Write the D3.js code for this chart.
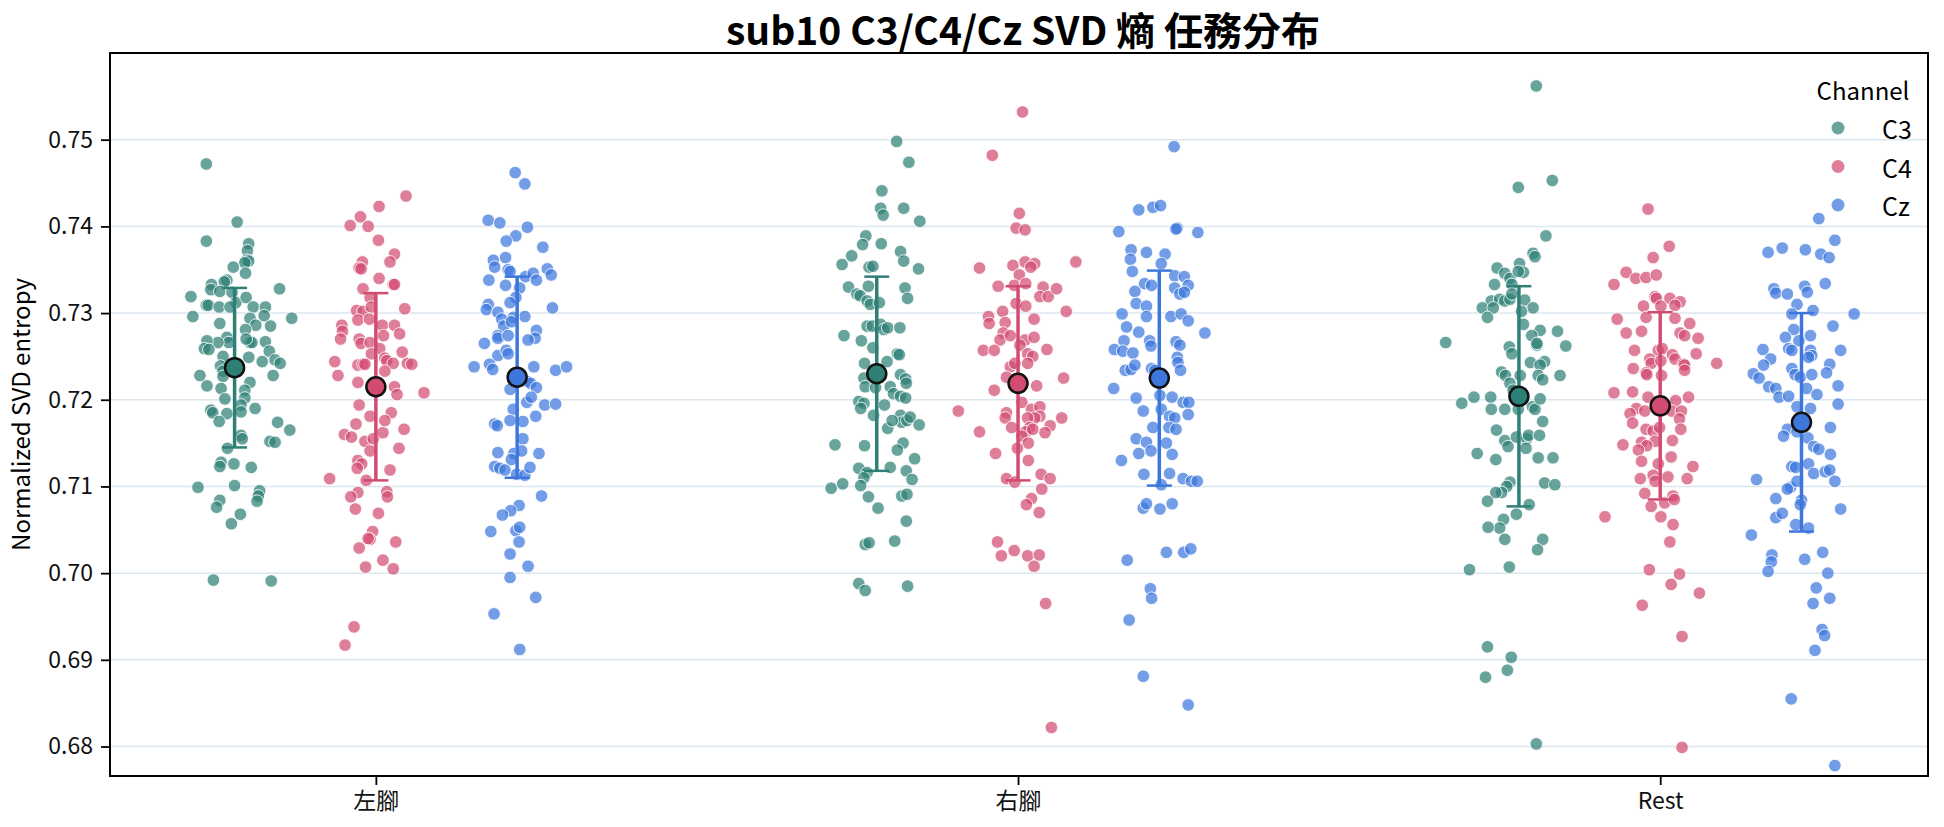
<!DOCTYPE html>
<html>
<head>
<meta charset="utf-8">
<script src="https://cdn.jsdelivr.net/npm/d3@7"></script>
<style>
  body { margin: 0; background: #fff; }
  svg text { font-family: "Noto Sans CJK TC", "Noto Sans", sans-serif; }
</style>
</head>
<body>
<div id="chart"></div>
<script>
// ---- data ----
const tasks    = ['左腳', '右腳', 'Rest'];
const channels = ['C3', 'C4', 'Cz'];
const yTicks   = [0.68, 0.69, 0.70, 0.71, 0.72, 0.73, 0.74, 0.75];

// each point: [entropy, jitter] ; jitter in hundredths of a category
const leftC3 = [[0.7472,-4.4],[0.7405,0.4],[0.7383,-4.4],[0.7380,2.2],[0.7372,2.0],[0.7361,1.9],[0.7360,2.2],[0.7358,1.6],[0.7353,-0.2],[0.7346,1.7],[0.7328,7.0],[0.7333,-3.6],[0.7338,-1.2],[0.7336,-1.6],[0.7327,-3.7],[0.7325,-2.3],[0.7319,-6.8],[0.7324,-0.4],[0.7312,0.2],[0.7318,1.8],[0.7309,-4.4],[0.7309,-4.1],[0.7307,-2.4],[0.7307,-0.7],[0.7307,2.9],[0.7307,4.8],[0.7297,4.6],[0.7285,5.6],[0.7296,-6.5],[0.7294,8.9],[0.7294,2.4],[0.7286,3.3],[0.7281,1.7],[0.7288,-2.3],[0.7272,-1.2],[0.7266,-0.9],[0.7266,-2.6],[0.7268,-4.3],[0.7259,-4.7],[0.7258,-4.0],[0.7266,2.4],[0.7266,2.7],[0.7270,1.8],[0.7267,4.8],[0.7250,-1.8],[0.7249,2.2],[0.7256,5.4],[0.7246,6.3],[0.7242,7.1],[0.7244,4.3],[0.7239,-2.2],[0.7233,-1.8],[0.7227,-1.8],[0.7228,-5.4],[0.7216,-4.3],[0.7228,6.0],[0.7220,2.4],[0.7211,1.6],[0.7213,-2.1],[0.7201,-1.5],[0.7202,1.6],[0.7194,1.0],[0.7190,3.2],[0.7188,-3.7],[0.7185,-3.4],[0.7184,-1.2],[0.7186,1.0],[0.7175,-2.4],[0.7174,6.7],[0.7165,8.6],[0.7159,1.0],[0.7155,1.2],[0.7152,5.5],[0.7151,6.3],[0.7144,-1.1],[0.7128,-2.1],[0.7123,-2.3],[0.7126,-0.1],[0.7122,2.6],[0.7099,-5.7],[0.7101,0.0],[0.7095,3.9],[0.7089,3.7],[0.7083,3.5],[0.7084,-2.3],[0.7076,-2.8],[0.7068,0.9],[0.7057,-0.5],[0.6992,-3.3],[0.6991,5.7]];
const leftC4 = [[0.7435,4.7],[0.7423,0.5],[0.7411,-2.4],[0.7401,-4.0],[0.7400,-1.2],[0.7384,0.4],[0.7368,2.9],[0.7359,2.2],[0.7359,-2.1],[0.7352,-2.6],[0.7351,-2.3],[0.7340,0.5],[0.7333,2.7],[0.7333,2.9],[0.7328,-2.0],[0.7318,-0.9],[0.7305,4.5],[0.7303,-3.0],[0.7302,-2.0],[0.7307,-0.7],[0.7286,-5.3],[0.7279,-5.2],[0.7270,-5.5],[0.7292,-2.8],[0.7293,-1.0],[0.7286,1.0],[0.7274,1.2],[0.7286,2.9],[0.7276,3.7],[0.7270,-2.6],[0.7265,-2.3],[0.7266,-0.9],[0.7259,0.6],[0.7255,4.1],[0.7244,-6.4],[0.7253,-0.7],[0.7248,1.4],[0.7245,1.7],[0.7242,2.7],[0.7240,-2.8],[0.7241,-2.0],[0.7241,-1.7],[0.7242,4.9],[0.7241,5.6],[0.7228,-5.9],[0.7233,1.4],[0.7220,-2.8],[0.7215,2.9],[0.7206,3.3],[0.7208,7.5],[0.7194,-2.6],[0.7181,-0.9],[0.7185,2.4],[0.7172,-3.1],[0.7160,-4.9],[0.7157,-3.8],[0.7152,-1.7],[0.7155,-0.4],[0.7162,1.1],[0.7176,1.4],[0.7166,4.4],[0.7141,-0.9],[0.7144,3.6],[0.7130,-2.8],[0.7126,-2.2],[0.7121,-2.9],[0.7119,2.2],[0.7109,-7.2],[0.7107,-1.5],[0.7093,-2.8],[0.7088,-3.9],[0.7094,1.7],[0.7088,1.8],[0.7074,-3.2],[0.7069,0.4],[0.7048,-0.5],[0.7039,-0.9],[0.7040,-1.2],[0.7029,-2.6],[0.7036,3.1],[0.7015,1.1],[0.7007,-1.6],[0.7005,2.7],[0.6938,-3.4],[0.6917,-4.8]];
const leftCz = [[0.7462,-0.3],[0.7449,1.2],[0.7407,-4.5],[0.7404,-2.7],[0.7399,1.6],[0.7389,-0.2],[0.7383,-1.7],[0.7376,4.0],[0.7361,-3.7],[0.7353,-3.5],[0.7364,-1.8],[0.7350,-1.4],[0.7348,-1.1],[0.7351,4.7],[0.7344,5.3],[0.7338,-4.4],[0.7332,-1.8],[0.7342,1.3],[0.7346,2.5],[0.7338,3.0],[0.7329,0.4],[0.7318,-0.2],[0.7312,-1.1],[0.7310,-4.5],[0.7304,-4.8],[0.7301,-3.0],[0.7306,5.5],[0.7296,1.2],[0.7295,-0.6],[0.7293,-2.4],[0.7285,-2.1],[0.7290,-0.9],[0.7280,3.0],[0.7271,2.8],[0.7269,1.7],[0.7265,-5.1],[0.7274,-3.0],[0.7271,-3.0],[0.7274,-1.4],[0.7251,-3.0],[0.7257,-1.7],[0.7253,-1.4],[0.7238,-6.7],[0.7241,-4.3],[0.7235,-3.8],[0.7238,2.6],[0.7234,6.0],[0.7238,7.7],[0.7212,-1.1],[0.7221,1.6],[0.7219,2.1],[0.7214,3.0],[0.7197,1.5],[0.7203,2.2],[0.7194,4.3],[0.7195,6.0],[0.7189,-0.6],[0.7176,-1.1],[0.7175,0.9],[0.7181,2.9],[0.7172,-3.5],[0.7170,-3.1],[0.7155,0.9],[0.7139,-3.0],[0.7138,-0.5],[0.7141,0.7],[0.7138,3.4],[0.7131,-0.9],[0.7123,-3.5],[0.7121,-2.7],[0.7119,-1.9],[0.7114,-0.1],[0.7113,1.2],[0.7122,2.0],[0.7089,3.8],[0.7078,0.3],[0.7072,-1.0],[0.7067,-2.3],[0.7048,-4.1],[0.7049,-0.2],[0.7053,0.4],[0.7036,0.3],[0.7022,-1.1],[0.7008,1.7],[0.6995,-1.1],[0.6972,2.9],[0.6953,-3.6],[0.6912,0.4]];
const rightC3 = [[0.7498,3.1],[0.7474,5.0],[0.7441,0.8],[0.7421,0.6],[0.7413,1.0],[0.7421,4.2],[0.7406,6.7],[0.7389,-1.7],[0.7379,-2.2],[0.7380,0.7],[0.7371,3.7],[0.7360,4.2],[0.7366,-3.9],[0.7356,-5.4],[0.7353,-1.2],[0.7354,-0.6],[0.7351,6.5],[0.7330,-4.4],[0.7322,-3.1],[0.7320,-2.6],[0.7331,-1.3],[0.7329,4.4],[0.7317,4.8],[0.7314,-1.5],[0.7310,-1.0],[0.7312,0.4],[0.7285,-1.5],[0.7285,-0.7],[0.7287,0.6],[0.7281,1.1],[0.7283,1.7],[0.7283,3.6],[0.7274,-5.1],[0.7268,-2.4],[0.7260,-0.6],[0.7253,3.2],[0.7252,3.5],[0.7242,-1.9],[0.7244,1.6],[0.7225,-2.0],[0.7215,-1.8],[0.7229,3.7],[0.7224,4.5],[0.7219,4.6],[0.7214,-0.2],[0.7215,2.1],[0.7207,2.6],[0.7204,3.7],[0.7202,4.5],[0.7198,-2.8],[0.7196,-2.0],[0.7190,-2.5],[0.7194,1.2],[0.7182,-0.5],[0.7182,3.7],[0.7174,3.9],[0.7176,4.7],[0.7180,5.2],[0.7171,6.6],[0.7167,1.7],[0.7176,2.4],[0.7148,-6.5],[0.7147,-1.9],[0.7150,4.1],[0.7142,3.2],[0.7132,5.9],[0.7121,-2.8],[0.7116,-1.5],[0.7110,-2.0],[0.7122,2.1],[0.7118,4.6],[0.7108,5.5],[0.7098,-7.1],[0.7103,-5.3],[0.7101,-2.5],[0.7089,3.9],[0.7091,4.7],[0.7088,-1.3],[0.7075,0.2],[0.7060,4.6],[0.7033,-1.8],[0.7035,-1.2],[0.7037,2.8],[0.6988,-2.8],[0.6980,-1.8],[0.6985,4.8]];
const rightC4 = [[0.7532,0.7],[0.7482,-4.0],[0.7415,0.2],[0.7398,-0.3],[0.7396,1.1],[0.7352,-6.0],[0.7355,-0.8],[0.7359,1.1],[0.7357,2.6],[0.7353,2.0],[0.7359,9.0],[0.7344,0.2],[0.7331,-3.1],[0.7332,-0.6],[0.7334,1.2],[0.7330,3.9],[0.7319,3.4],[0.7319,4.7],[0.7328,6.0],[0.7311,-0.3],[0.7308,1.2],[0.7302,-2.4],[0.7302,7.5],[0.7296,-4.6],[0.7288,-4.5],[0.7289,-2.0],[0.7293,2.5],[0.7277,-2.3],[0.7269,-2.8],[0.7274,-1.2],[0.7269,1.1],[0.7272,2.5],[0.7257,-5.4],[0.7257,-3.7],[0.7258,4.5],[0.7263,0.3],[0.7253,1.5],[0.7250,2.3],[0.7242,1.5],[0.7238,-1.2],[0.7242,-0.5],[0.7226,-1.8],[0.7225,7.1],[0.7216,2.9],[0.7211,-3.7],[0.7187,-9.3],[0.7197,0.6],[0.7185,-1.8],[0.7179,-2.0],[0.7168,-1.0],[0.7189,2.1],[0.7192,3.4],[0.7181,3.4],[0.7179,2.6],[0.7179,1.5],[0.7168,1.8],[0.7163,1.2],[0.7166,2.3],[0.7179,6.8],[0.7170,5.0],[0.7162,4.2],[0.7163,-6.0],[0.7158,0.6],[0.7150,1.6],[0.7144,-0.1],[0.7138,-3.5],[0.7130,1.6],[0.7109,-1.8],[0.7105,-0.5],[0.7114,3.6],[0.7109,5.0],[0.7097,3.7],[0.7086,2.1],[0.7079,1.3],[0.7070,3.3],[0.7036,-3.2],[0.7020,-2.6],[0.7026,-0.6],[0.7020,1.5],[0.7021,3.3],[0.7008,2.5],[0.6965,4.3],[0.6822,5.2]];
const rightCz = [[0.7492,2.3],[0.7419,-3.2],[0.7422,-1.0],[0.7424,0.2],[0.7394,-6.3],[0.7398,2.8],[0.7397,2.6],[0.7393,6.0],[0.7373,-4.4],[0.7362,-4.5],[0.7370,-2.0],[0.7368,0.9],[0.7357,0.3],[0.7348,-4.2],[0.7343,2.4],[0.7342,3.9],[0.7334,-2.3],[0.7332,-1.2],[0.7325,-3.8],[0.7329,2.4],[0.7322,3.2],[0.7332,4.5],[0.7324,3.9],[0.7311,-3.6],[0.7308,-2.0],[0.7296,-2.0],[0.7299,-5.8],[0.7284,-5.1],[0.7296,1.8],[0.7299,3.4],[0.7291,4.5],[0.7278,-3.2],[0.7277,7.1],[0.7268,-1.5],[0.7262,-1.3],[0.7268,-5.5],[0.7258,-7.0],[0.7256,-5.7],[0.7254,-4.1],[0.7267,2.6],[0.7263,3.2],[0.7249,2.8],[0.7243,2.9],[0.7234,3.3],[0.7234,-5.3],[0.7235,-4.4],[0.7240,-3.8],[0.7236,-1.2],[0.7234,-0.7],[0.7213,-7.1],[0.7202,-3.6],[0.7205,0.1],[0.7203,2.0],[0.7197,3.7],[0.7197,4.6],[0.7183,4.5],[0.7187,-2.5],[0.7189,0.3],[0.7181,1.6],[0.7179,2.4],[0.7168,-1.0],[0.7168,1.5],[0.7166,2.6],[0.7155,-3.6],[0.7151,-2.0],[0.7141,-1.3],[0.7150,1.1],[0.7138,-3.2],[0.7137,2.0],[0.7130,-5.9],[0.7114,-2.4],[0.7115,1.6],[0.7109,3.7],[0.7106,5.0],[0.7106,5.9],[0.7102,0.3],[0.7075,-2.5],[0.7080,-2.0],[0.7074,0.1],[0.7080,2.0],[0.7015,-5.0],[0.7024,1.1],[0.7024,3.8],[0.7028,4.9],[0.6982,-1.4],[0.6971,-1.2],[0.6946,-4.7],[0.6881,-2.5],[0.6848,4.5]];
const restC3 = [[0.7562,2.7],[0.7445,-0.1],[0.7453,5.2],[0.7389,4.2],[0.7369,2.2],[0.7365,2.5],[0.7352,-3.4],[0.7346,-2.2],[0.7340,-1.4],[0.7357,0.1],[0.7347,0.7],[0.7348,-0.1],[0.7333,-3.8],[0.7333,-1.1],[0.7314,-4.3],[0.7316,-3.0],[0.7314,-2.2],[0.7316,-1.4],[0.7322,-1.1],[0.7306,-5.7],[0.7306,-4.0],[0.7295,-4.9],[0.7315,0.9],[0.7306,2.2],[0.7302,0.4],[0.7287,0.7],[0.7266,-11.4],[0.7280,3.3],[0.7274,2.0],[0.7263,2.8],[0.7265,2.8],[0.7279,6.0],[0.7262,7.3],[0.7261,-1.5],[0.7253,-1.1],[0.7243,1.8],[0.7244,4.0],[0.7240,3.3],[0.7228,3.0],[0.7223,3.7],[0.7228,6.4],[0.7232,-2.7],[0.7228,-2.1],[0.7228,0.2],[0.7219,-1.4],[0.7211,-0.9],[0.7196,-8.9],[0.7203,-7.0],[0.7203,-4.4],[0.7189,-4.3],[0.7189,-2.2],[0.7189,-0.1],[0.7192,2.1],[0.7189,2.5],[0.7201,3.3],[0.7175,3.7],[0.7165,-3.5],[0.7153,-2.2],[0.7146,-1.7],[0.7157,-0.4],[0.7155,1.2],[0.7159,1.5],[0.7144,1.1],[0.7159,3.2],[0.7138,-6.5],[0.7131,-3.6],[0.7133,3.0],[0.7133,5.3],[0.7105,-1.4],[0.7100,-1.9],[0.7093,-2.7],[0.7093,-3.6],[0.7104,4.0],[0.7102,5.6],[0.7083,-4.9],[0.7079,1.6],[0.7068,-0.4],[0.7062,-2.4],[0.7052,-3.0],[0.7053,-4.8],[0.7039,-2.2],[0.7039,3.7],[0.7027,2.9],[0.7004,-7.7],[0.7007,-1.5],[0.6915,-4.9],[0.6903,-1.2],[0.6888,-1.8],[0.6880,-5.2],[0.6803,2.7]];
const restC4 = [[0.7420,-1.9],[0.7377,1.4],[0.7364,-1.1],[0.7347,-5.3],[0.7333,-7.2],[0.7340,-3.8],[0.7341,-2.2],[0.7344,-0.6],[0.7319,-0.8],[0.7317,-0.6],[0.7317,1.5],[0.7313,3.1],[0.7309,2.3],[0.7308,-2.6],[0.7308,0.1],[0.7295,-2.2],[0.7293,-6.7],[0.7294,2.3],[0.7288,4.6],[0.7277,-5.3],[0.7279,-2.9],[0.7277,3.1],[0.7274,3.8],[0.7271,5.9],[0.7257,-4.0],[0.7257,-0.3],[0.7259,0.3],[0.7253,5.6],[0.7252,1.9],[0.7247,2.3],[0.7247,-1.6],[0.7242,-1.4],[0.7245,0.1],[0.7241,3.6],[0.7240,3.8],[0.7234,3.8],[0.7242,8.8],[0.7236,-4.2],[0.7231,-2.2],[0.7229,-2.1],[0.7228,0.2],[0.7208,-7.2],[0.7209,-4.3],[0.7203,-1.9],[0.7199,2.4],[0.7203,4.4],[0.7190,-3.7],[0.7184,-4.7],[0.7187,-2.4],[0.7187,1.8],[0.7187,3.3],[0.7178,3.0],[0.7166,3.2],[0.7173,-4.3],[0.7166,-2.2],[0.7164,-1.1],[0.7168,-0.1],[0.7152,-0.8],[0.7151,-2.9],[0.7147,-2.1],[0.7142,-3.4],[0.7153,1.9],[0.7148,-5.8],[0.7134,1.7],[0.7129,-2.9],[0.7126,-0.3],[0.7123,5.1],[0.7113,-1.1],[0.7109,-3.1],[0.7111,1.2],[0.7109,4.2],[0.7106,-0.8],[0.7092,-2.4],[0.7077,-1.4],[0.7081,0.7],[0.7089,2.0],[0.7085,2.2],[0.7065,-8.6],[0.7065,0.1],[0.7056,2.0],[0.7036,1.5],[0.7004,-1.7],[0.6999,3.0],[0.6987,1.7],[0.6977,6.1],[0.6963,-2.8],[0.6927,3.4],[0.6799,3.4]];
const restCz = [[0.7409,2.7],[0.7384,5.2],[0.7370,-5.2],[0.7375,-3.0],[0.7373,0.6],[0.7368,3.0],[0.7364,4.3],[0.7334,3.7],[0.7328,-4.3],[0.7323,-4.0],[0.7322,-2.2],[0.7331,0.5],[0.7324,0.9],[0.7310,-0.7],[0.7299,-1.5],[0.7303,1.8],[0.7299,8.2],[0.7281,-1.2],[0.7285,4.9],[0.7272,-2.5],[0.7268,-0.4],[0.7274,1.4],[0.7258,-6.0],[0.7259,-2.0],[0.7257,-1.5],[0.7257,1.4],[0.7251,1.6],[0.7249,1.1],[0.7257,6.1],[0.7247,-4.8],[0.7240,-5.9],[0.7236,-1.5],[0.7229,-1.0],[0.7226,-0.2],[0.7229,1.6],[0.7241,4.4],[0.7231,3.9],[0.7230,-7.5],[0.7225,-6.6],[0.7215,-5.1],[0.7213,-4.0],[0.7203,-3.5],[0.7204,-2.0],[0.7213,0.8],[0.7206,2.4],[0.7216,5.7],[0.7190,1.4],[0.7195,5.7],[0.7192,-0.7],[0.7166,-2.2],[0.7158,-2.8],[0.7163,-0.7],[0.7168,4.5],[0.7156,1.0],[0.7146,1.9],[0.7143,2.7],[0.7137,4.5],[0.7123,-1.5],[0.7122,-0.9],[0.7126,1.1],[0.7115,1.9],[0.7117,3.7],[0.7119,4.4],[0.7106,5.2],[0.7108,-7.0],[0.7099,-1.7],[0.7097,-2.2],[0.7106,-0.7],[0.7084,0.0],[0.7079,-0.2],[0.7086,-4.0],[0.7074,6.1],[0.7064,-4.0],[0.7069,-3.0],[0.7056,-0.9],[0.7052,1.1],[0.7044,-7.8],[0.7021,-4.6],[0.7013,-4.7],[0.7002,-5.2],[0.7016,0.5],[0.7024,3.3],[0.7000,4.1],[0.6983,2.3],[0.6965,1.8],[0.6971,4.4],[0.6935,3.2],[0.6928,3.6],[0.6911,2.1],[0.6855,-1.6],[0.6778,5.2]];

// mean and SD per task (rows) and channel (cols)
const meanVals = [[0.7237, 0.7215, 0.7226], [0.7230, 0.7219, 0.7225], [0.7204, 0.7193, 0.7174]];
const sdVals   = [[0.0092, 0.0108, 0.0116], [0.0112, 0.0112, 0.0124], [0.0127, 0.0108, 0.0126]];

const strips = [[leftC3, leftC4, leftCz], [rightC3, rightC4, rightCz], [restC3, restC4, restCz]];

const color = d3.scaleOrdinal().domain(channels).range(['#2e7f76', '#d24c72', '#3d77dc']);

// ---- layout ----
const W = 1944, H = 827;
const margin = { top: 53, right: 16, bottom: 51, left: 110 };
const width  = W - margin.left - margin.right;
const height = H - margin.top - margin.bottom;

const svg = d3.select('#chart').append('svg')
    .attr('width', W).attr('height', H);
const g = svg.append('g')
    .attr('transform', `translate(${margin.left},${margin.top})`);

const x = d3.scaleLinear().domain([-0.414, 2.417]).range([0, width]);
const dodge = d3.scalePoint().domain(channels).range([-0.22, 0.22]);
const y = d3.scaleLinear().domain([0.6766, 0.7600]).range([height, 0]);

// gridlines
g.append('g').selectAll('line')
  .data(yTicks)
  .enter().append('line')
    .attr('x1', 0).attr('x2', width)
    .attr('y1', d => y(d)).attr('y2', d => y(d))
    .attr('stroke', '#dce6ef').attr('stroke-width', 1.5);

// points
strips.forEach((row, ti) => {
  row.forEach((pts, ci) => {
    const ch = channels[ci];
    g.append('g').selectAll('circle')
      .data(pts)
      .enter().append('circle')
        .attr('cx', d => x(ti + dodge(ch) + d[1] / 100))
        .attr('cy', d => y(d[0]))
        .attr('r', 6.3)
        .attr('fill', color(ch))
        .attr('fill-opacity', 0.72)
        .attr('stroke', '#fff')
        .attr('stroke-opacity', 0.85)
        .attr('stroke-width', 1);
  });
});

// mean ± SD
const summary = [];
tasks.forEach((t, ti) => channels.forEach((ch, ci) => {
  summary.push({ ti, ch, m: meanVals[ti][ci], s: sdVals[ti][ci] });
}));

const eb = g.append('g').selectAll('g')
  .data(summary)
  .enter().append('g');
eb.append('line')
  .attr('x1', d => x(d.ti + dodge(d.ch))).attr('x2', d => x(d.ti + dodge(d.ch)))
  .attr('y1', d => y(d.m - d.s)).attr('y2', d => y(d.m + d.s))
  .attr('stroke', d => color(d.ch)).attr('stroke-width', 3.5);
[-1, 1].forEach(k => {
  eb.append('line')
    .attr('x1', d => x(d.ti + dodge(d.ch)) - 12.5).attr('x2', d => x(d.ti + dodge(d.ch)) + 12.5)
    .attr('y1', d => y(d.m + k * d.s)).attr('y2', d => y(d.m + k * d.s))
    .attr('stroke', d => color(d.ch)).attr('stroke-width', 2.5);
});
eb.append('circle')
  .attr('cx', d => x(d.ti + dodge(d.ch)))
  .attr('cy', d => y(d.m))
  .attr('r', 9.5)
  .attr('fill', d => color(d.ch))
  .attr('stroke', '#111').attr('stroke-width', 2.5);

// axes
const yAxis = g.append('g')
  .call(d3.axisLeft(y).tickValues(yTicks).tickFormat(d3.format('.2f')).tickSize(9).tickPadding(8));
const xAxis = g.append('g')
  .attr('transform', `translate(0,${height})`)
  .call(d3.axisBottom(x).tickValues([0, 1, 2]).tickFormat(i => tasks[i]).tickSize(9).tickPadding(8));
[yAxis, xAxis].forEach(a => {
  a.select('.domain').remove();
  a.selectAll('.tick line').attr('stroke', '#000').attr('stroke-width', 1.8);
  a.selectAll('.tick text')
    .attr('fill', '#111')
    .style('font-size', '23px')
    .style('font-family', '"Noto Sans CJK TC", "Noto Sans", sans-serif');
});

// frame
g.append('rect')
  .attr('width', width).attr('height', height)
  .attr('fill', 'none').attr('stroke', '#000').attr('stroke-width', 2);

// title and axis label
svg.append('text')
  .attr('x', 1023).attr('y', 45)
  .attr('text-anchor', 'middle')
  .style('font-size', '39px').style('font-weight', '700')
  .text('sub10 C3/C4/Cz SVD 熵 任務分布');
svg.append('text')
  .attr('transform', `translate(19,${margin.top + height / 2}) rotate(-90)`)
  .attr('text-anchor', 'middle').attr('dominant-baseline', 'central')
  .style('font-size', '24px')
  .text('Normalized SVD entropy');

// legend
const lg = svg.append('g');
lg.append('text')
  .attr('x', 1863).attr('y', 89)
  .attr('text-anchor', 'middle').attr('dominant-baseline', 'central')
  .style('font-size', '24px')
  .text('Channel');
channels.forEach((ch, i) => {
  const ly = 128 + i * 38.5;
  lg.append('circle')
    .attr('cx', 1838).attr('cy', ly).attr('r', 6.5)
    .attr('fill', color(ch)).attr('fill-opacity', 0.72);
  lg.append('text')
    .attr('x', 1882).attr('y', ly)
    .attr('dominant-baseline', 'central')
    .style('font-size', '25px')
    .text(ch);
});
</script>
</body>
</html>
